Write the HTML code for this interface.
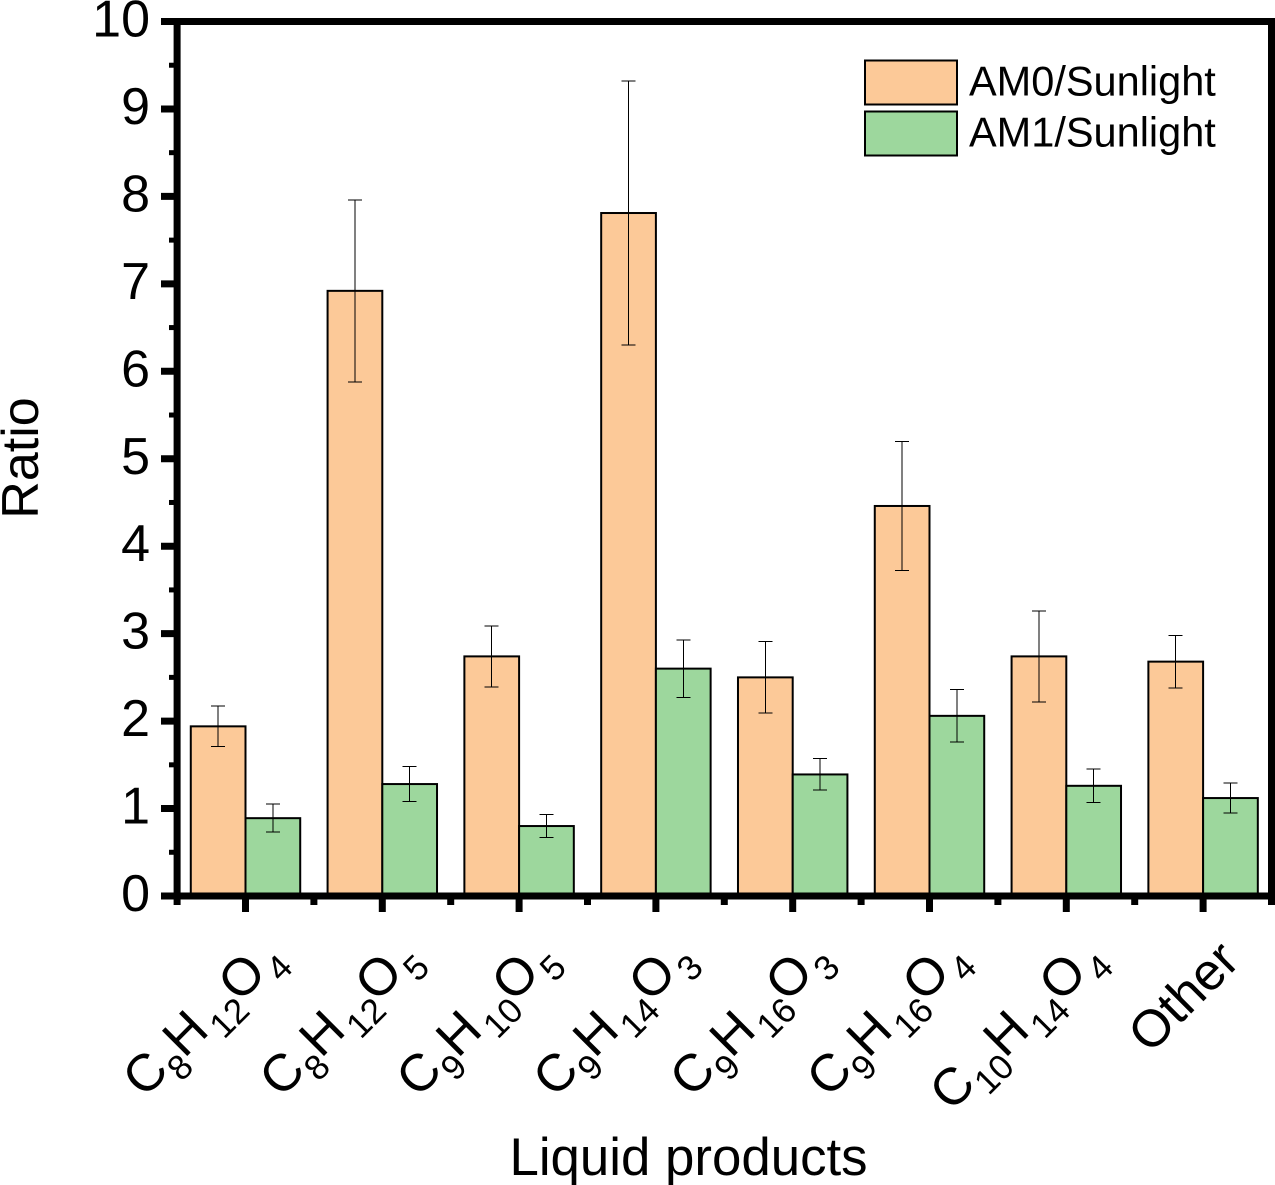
<!DOCTYPE html>
<html>
<head>
<meta charset="utf-8">
<title>Ratio of liquid products</title>
<style>
html,body{margin:0;padding:0;background:#fff;}
svg{display:block;}
text{font-family:"Liberation Sans",Arial,sans-serif;fill:#000;}
</style>
</head>
<body>
<svg id="chart" xmlns="http://www.w3.org/2000/svg" width="1275" height="1185" viewBox="0 0 1275 1185"></svg>
<script>
const categories = [
  [["C",0],["8",1],["H",0],["12",1],["O",0],["4",1]],
  [["C",0],["8",1],["H",0],["12",1],["O",0],["5",1]],
  [["C",0],["9",1],["H",0],["10",1],["O",0],["5",1]],
  [["C",0],["9",1],["H",0],["14",1],["O",0],["3",1]],
  [["C",0],["9",1],["H",0],["16",1],["O",0],["3",1]],
  [["C",0],["9",1],["H",0],["16",1],["O",0],["4",1]],
  [["C",0],["10",1],["H",0],["14",1],["O",0],["4",1]],
  [["Other",0]]
];
const am0Values = [1.94, 6.92, 2.74, 7.81, 2.50, 4.46, 2.74, 2.68];
const am0Errors = [0.23, 1.04, 0.35, 1.51, 0.41, 0.74, 0.52, 0.30];
const am1Values = [0.89, 1.28, 0.80, 2.60, 1.39, 2.06, 1.26, 1.12];
const am1Errors = [0.16, 0.20, 0.13, 0.33, 0.18, 0.30, 0.19, 0.17];
const yTickLabels = ["0","1","2","3","4","5","6","7","8","9","10"];
const seriesNames = ["AM0/Sunlight","AM1/Sunlight"];

const svg = document.getElementById('chart');
const NS = 'http://www.w3.org/2000/svg';
const ORANGE = '#fcc998', GREEN = '#9dd79d';
const FORMULA_GAPS = [0, 0.5, -1, 4, -2, 3];

function xScale(v){ return 245.5 + (v - 1) * 136.8; }
function yScale(v){ return 896 - v * 87.45; }
function make(tag, attrs, parent){
  const el = document.createElementNS(NS, tag);
  for (const k in attrs) el.setAttribute(k, attrs[k]);
  (parent || svg).appendChild(el);
  return el;
}

const BAR_UNITS = 0.4;
function drawSeries(values, errors, fill, side, key){
  const w = BAR_UNITS * 136.8;
  values.forEach(function(v, i){
    const c = xScale(i + 1);
    const x = side < 0 ? c - w : c;
    const bar = make('rect', {x: x, y: yScale(v), width: w, height: yScale(0) - yScale(v), fill: fill, stroke: '#000', 'stroke-width': 2});
    
    
  });
  values.forEach(function(v, i){
    const c = xScale(i + 1) + side * w / 2;
    const top = yScale(v + errors[i]), bot = yScale(v - errors[i]);
    const d = 'M' + c + ' ' + top + 'V' + bot + 'M' + (c - 7) + ' ' + top + 'H' + (c + 7) + 'M' + (c - 7) + ' ' + bot + 'H' + (c + 7);
    const eb = make('path', {d: d, fill: 'none', stroke: '#000', 'stroke-width': 1, 'shape-rendering': 'crispEdges'});
    
    
  });
}
drawSeries(am0Values, am0Errors, ORANGE, -1, 'am0');
drawSeries(am1Values, am1Errors, GREEN, 1, 'am1');

const xLeft = xScale(0.5), xRight = xScale(8.5), yTop = yScale(10), yBot = yScale(0);
const frame = make('path', {d: 'M161 ' + yTop + 'H' + xRight + 'V' + (yBot + 3.5) + 'M' + xLeft + ' ' + yTop + 'V' + yBot + 'M161 ' + yBot + 'H' + (xRight + 3.5), fill: 'none', stroke: '#000', 'stroke-width': 7});



// Y axis ticks and labels
for (let v = 0; v <= 10; v += 0.5) {
  const major = Number.isInteger(v);
  const y = yScale(v);
  const t = make('line', {x1: major ? 161 : 169, x2: xLeft, y1: y, y2: y, stroke: '#000', 'stroke-width': major ? 7 : 5});
  
  
}
yTickLabels.forEach(function(s, i){
  const t = make('text', {x: 150, y: yScale(i) + 15, 'text-anchor': 'end', 'font-size': 52});
  t.textContent = s;
  
  
});

// X axis ticks and labels
for (let v = 0.5; v <= 8.5; v += 0.5) {
  const major = Number.isInteger(v);
  const x = xScale(v);
  const t = make('line', {x1: x, x2: x, y1: yBot, y2: major ? 912 : 905, stroke: '#000', 'stroke-width': 7});
  
  
}
categories.forEach(function(parts, i){
  const isFormula = parts.length > 1;
  const ax = xScale(i + 1) + (isFormula ? 38.7 : 38.7);
  const ay = isFormula ? 959 : 962.9;
  const t = make('text', {transform: 'translate(' + ax + ' ' + ay + ') rotate(-45)', x: 0, y: 0, 'text-anchor': 'end', 'font-size': 52});
  
  
  let prevSub = 0;
  parts.forEach(function(p, j){
    const ts = make('tspan', {'font-size': p[1] ? 35 : 52, dy: (p[1] - prevSub) * 14.7, dx: FORMULA_GAPS[j]}, t);
    ts.textContent = p[0];
    prevSub = p[1];
  });
});

// Axis titles
const xt = make('text', {x: 688.5, y: 1175, 'text-anchor': 'middle', 'font-size': 52.8});
xt.textContent = 'Liquid products';


const yt = make('text', {transform: 'translate(38 458) rotate(-90)', 'text-anchor': 'middle', 'font-size': 52});
yt.textContent = 'Ratio';



// Legend
const legendFills = [ORANGE, GREEN];
seriesNames.forEach(function(s, i){
  const r = make('rect', {x: 865, y: 60.5 + i * 51, width: 92, height: 44, fill: legendFills[i], stroke: '#000', 'stroke-width': 2});
  
  
  const t = make('text', {x: 969, y: 95.5 + i * 51, 'font-size': 41.5});
  t.textContent = s;
  
  
});
</script>
</body>
</html>
